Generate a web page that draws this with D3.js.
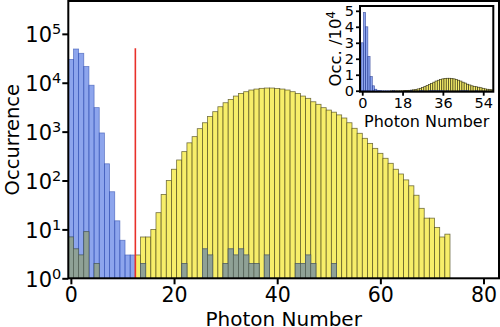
<!DOCTYPE html>
<html><head><meta charset="utf-8">
<script src="https://cdn.jsdelivr.net/npm/d3@7"></script>
<style>
body{margin:0;background:#fff}
svg{display:block}
text{font-family:"DejaVu Sans",sans-serif;fill:#000}
</style>
</head><body>
<svg id="chart" width="500" height="327"></svg>
<script>
// ---------- data ----------
const photonNumbers = d3.range(0, 74);
const blueCounts = [30000, 49000, 40000, 21500, 8900, 3100, 940, 220, 59, 15,
  6, 3, 3, 0, 2, 0, 0, 0, 0, 0,
  0, 0, 2, 0, 0, 0, 4, 3, 0, 0,
  2, 4, 3, 4, 3, 2, 2, 0, 3, 0,
  0, 0, 0, 0, 2, 2, 3, 2, 0, 0,
  0, 2, 0, 0, 0, 0, 0, 0, 0, 0,
  0, 0, 0, 0, 0, 0, 0, 0, 0, 0,
  0, 0, 0, 0];
const yellowCounts = [7, 4, 3, 9, 0, 2, 0, 0, 0, 0,
  0, 0, 0, 3, 7, 7, 10, 22, 52, 100,
  170, 263, 390, 590, 790, 1150, 1520, 2040, 2560, 3230,
  3900, 4560, 5340, 6050, 6560, 7100, 7430, 7680, 7800, 7800,
  7600, 7430, 7100, 6560, 6050, 5340, 4800, 4080, 3620, 3090,
  2760, 2500, 2200, 1900, 1520, 1170, 925, 730, 575, 455,
  360, 285, 225, 170, 136, 103, 78, 50, 27, 17,
  17, 11, 7, 8];
const thresholdPhoton = 12.5;
const thresholdTop = 51000;
const mainXTicks = [0, 20, 40, 60, 80];
const mainYExponents = [0, 1, 2, 3, 4, 5];
const insetXTicks = [0, 18, 36, 54];
const insetYTicks = [0, 1, 2, 3, 4, 5];
const insetScale = 1e4;
const xLabel = "Photon Number";
const yLabel = "Occurrence";
const insetYLabel = "Occ. /10";
const insetYLabelExp = "4";

// ---------- styles ----------
const yellowFill = "#f7ee6a", yellowEdge = "rgba(70,66,20,0.75)";
const blueFill = "rgb(65,105,225)", blueOpacity = 0.6, blueEdge = "rgba(40,70,170,0.6)";
const overlapFill = "#8fa196";

const svg = d3.select("#chart");

// ---------- main axes ----------
const M = {l: 68.3, r: 499, t: 1, b: 278.3};
const x = d3.scaleLinear().domain([-0.5, 83]).range([M.l, M.r]);
const y = d3.scaleLog().domain([1, Math.pow(10, 5.672)]).range([M.b, M.t]);

svg.append("defs").append("clipPath").attr("id", "mainClip")
  .append("rect").attr("x", M.l).attr("y", M.t).attr("width", M.r - M.l).attr("height", M.b - M.t);

const gMain = svg.append("g").attr("clip-path", "url(#mainClip)");
const yData = photonNumbers.map((p, i) => ({p, v: yellowCounts[i]})).filter(d => d.v > 0);
const bData = photonNumbers.map((p, i) => ({p, v: blueCounts[i]})).filter(d => d.v > 0);
const oData = photonNumbers.map((p, i) => ({p, v: Math.min(blueCounts[i], yellowCounts[i])})).filter(d => d.v > 0);

gMain.selectAll("rect.yel").data(yData).join("rect").attr("class", "yel")
  .attr("x", d => x(d.p - 0.5)).attr("width", d => x(d.p + 0.5) - x(d.p - 0.5))
  .attr("y", d => y(d.v)).attr("height", d => y(1) - y(d.v))
  .attr("fill", yellowFill).attr("stroke", yellowEdge).attr("stroke-width", 0.8);

gMain.selectAll("rect.blu").data(bData).join("rect").attr("class", "blu")
  .attr("x", d => x(d.p - 0.5)).attr("width", d => x(d.p + 0.5) - x(d.p - 0.5))
  .attr("y", d => y(d.v)).attr("height", d => y(1) - y(d.v))
  .attr("fill", blueFill).attr("fill-opacity", blueOpacity)
  .attr("stroke", blueEdge).attr("stroke-width", 0.8);

gMain.selectAll("rect.ovl").data(oData).join("rect").attr("class", "ovl")
  .attr("x", d => x(d.p - 0.5)).attr("width", d => x(d.p + 0.5) - x(d.p - 0.5))
  .attr("y", d => y(d.v)).attr("height", d => y(1) - y(d.v))
  .attr("fill", overlapFill).attr("stroke", "rgba(70,80,60,0.6)").attr("stroke-width", 0.8);

gMain.append("line")
  .attr("x1", x(thresholdPhoton)).attr("x2", x(thresholdPhoton))
  .attr("y1", y(thresholdTop)).attr("y2", y(1))
  .attr("stroke", "#e8302a").attr("stroke-width", 1.6);

// frame
svg.append("rect").attr("x", M.l).attr("y", M.t).attr("width", M.r - M.l).attr("height", M.b - M.t)
  .attr("fill", "none").attr("stroke", "#000").attr("stroke-width", 2);

// x axis
const xAxis = svg.append("g").attr("transform", `translate(0,${M.b})`)
  .call(d3.axisBottom(x).tickValues(mainXTicks).tickSize(6).tickPadding(3.5).tickFormat(d3.format("d")));
xAxis.select(".domain").remove();
xAxis.selectAll(".tick line").attr("stroke", "#000").attr("stroke-width", 2);
xAxis.selectAll(".tick text").attr("font-size", 20.5).attr("font-family", "DejaVu Sans").attr("fill", "#000");

// y axis
const yAxis = svg.append("g").attr("transform", `translate(${M.l},0)`)
  .call(d3.axisLeft(y).tickValues(mainYExponents.map(e => Math.pow(10, e))).tickSize(6).tickPadding(3).tickFormat(() => ""));
yAxis.select(".domain").remove();
yAxis.selectAll(".tick line").attr("stroke", "#000").attr("stroke-width", 2);
yAxis.selectAll(".tick").each(function(d, i) {
  const t = d3.select(this).append("text").attr("x", -7).attr("y", 8)
    .attr("text-anchor", "end").attr("font-size", 21);
  t.append("tspan").text("10");
  t.append("tspan").attr("font-size", 14.5).attr("dy", -8).text(String(mainYExponents[i]));
});

svg.append("text").attr("x", (M.l + M.r) / 2).attr("y", 326).attr("text-anchor", "middle")
  .attr("font-size", 20).text(xLabel);
svg.append("text").attr("transform", `translate(18.5,${(M.t + M.b) / 2}) rotate(-90)`)
  .attr("text-anchor", "middle").attr("font-size", 19.5).text(yLabel);

// ---------- inset ----------
const I = {l: 360, r: 493.3, t: 6, b: 91.7};
const ix = d3.scaleLinear().domain([-1, 58.5]).range([I.l, I.r]);
const iy = d3.scaleLinear().domain([-0.06, 5.3]).range([I.b, I.t]);

svg.append("rect").attr("x", I.l).attr("y", I.t).attr("width", I.r - I.l).attr("height", I.b - I.t)
  .attr("fill", "#fff");
svg.select("defs").append("clipPath").attr("id", "insetClip")
  .append("rect").attr("x", I.l).attr("y", I.t).attr("width", I.r - I.l).attr("height", I.b - I.t);
const gIn = svg.append("g").attr("clip-path", "url(#insetClip)");

gIn.selectAll("rect.iyel").data(yData).join("rect").attr("class", "iyel")
  .attr("x", d => ix(d.p - 0.5)).attr("width", d => ix(d.p + 0.5) - ix(d.p - 0.5))
  .attr("y", d => iy(d.v / insetScale)).attr("height", d => iy(0) - iy(d.v / insetScale))
  .attr("fill", yellowFill).attr("stroke", "rgba(40,38,10,0.85)").attr("stroke-width", 0.7);
gIn.selectAll("rect.iblu").data(bData).join("rect").attr("class", "iblu")
  .attr("x", d => ix(d.p - 0.5)).attr("width", d => ix(d.p + 0.5) - ix(d.p - 0.5))
  .attr("y", d => iy(d.v / insetScale)).attr("height", d => iy(0) - iy(d.v / insetScale))
  .attr("fill", blueFill).attr("fill-opacity", blueOpacity)
  .attr("stroke", "rgba(30,50,140,0.7)").attr("stroke-width", 0.7);

svg.append("rect").attr("x", I.l).attr("y", I.t).attr("width", I.r - I.l).attr("height", I.b - I.t)
  .attr("fill", "none").attr("stroke", "#000").attr("stroke-width", 2);

const ixAxis = svg.append("g").attr("transform", `translate(0,${I.b})`)
  .call(d3.axisBottom(ix).tickValues(insetXTicks).tickSize(4).tickPadding(2).tickFormat(d3.format("d")));
ixAxis.select(".domain").remove();
ixAxis.selectAll(".tick line").attr("stroke", "#000").attr("stroke-width", 1.8);
ixAxis.selectAll(".tick text").attr("font-size", 14.5).attr("font-family", "DejaVu Sans").attr("fill", "#000");

const iyAxis = svg.append("g").attr("transform", `translate(${I.l},0)`)
  .call(d3.axisLeft(iy).tickValues(insetYTicks).tickSize(4).tickPadding(2).tickFormat(d3.format("d")));
iyAxis.select(".domain").remove();
iyAxis.selectAll(".tick line").attr("stroke", "#000").attr("stroke-width", 1.8);
iyAxis.selectAll(".tick text").attr("font-size", 14.5).attr("font-family", "DejaVu Sans").attr("fill", "#000");

svg.append("text").attr("x", (I.l + I.r) / 2).attr("y", 126.5).attr("text-anchor", "middle")
  .attr("font-size", 16).text(xLabel);
const il = svg.append("text").attr("transform", `translate(341,${(I.t + I.b) / 2}) rotate(-90)`)
  .attr("text-anchor", "middle").attr("font-size", 16.5);
il.append("tspan").text(insetYLabel);
il.append("tspan").attr("font-size", 11.5).attr("dy", -6).text(insetYLabelExp);
</script>
</body></html>
